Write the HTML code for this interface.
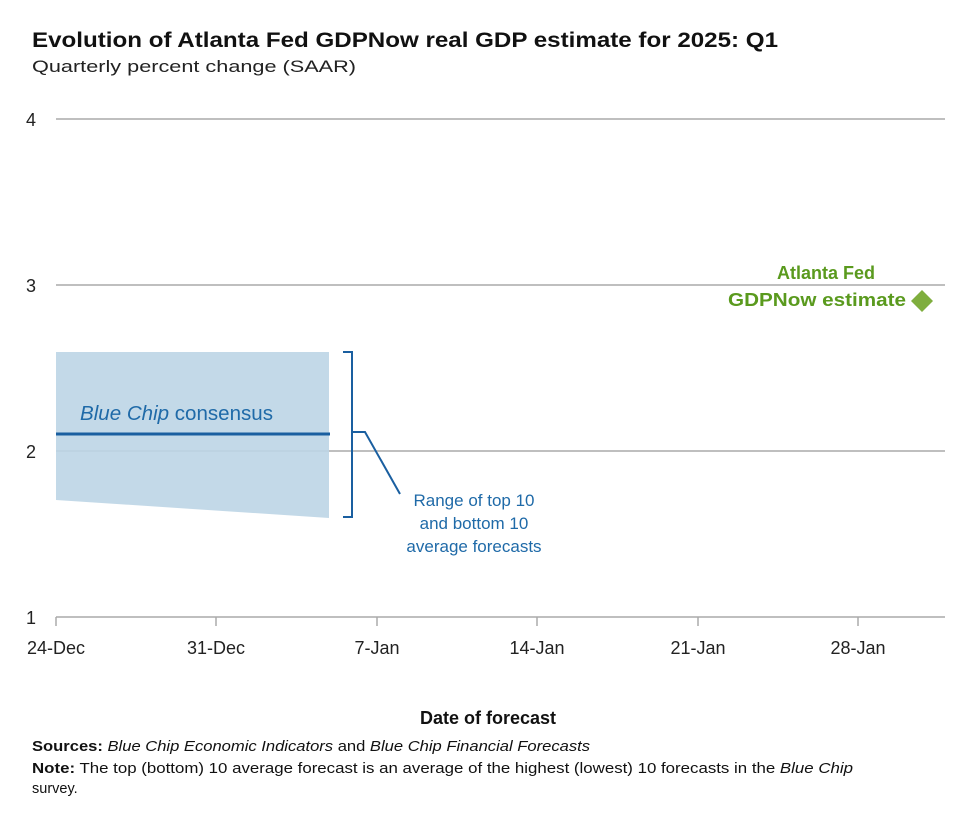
<!DOCTYPE html>
<html><head><style>
body{margin:0;background:#fff;width:963px;height:808px;overflow:hidden;font-family:"Liberation Sans",sans-serif;}
</style></head><body>
<svg width="963" height="808" xmlns="http://www.w3.org/2000/svg" font-family="Liberation Sans, sans-serif">
<text x="32" y="47" font-size="21" font-weight="bold" fill="#111" textLength="746" lengthAdjust="spacingAndGlyphs">Evolution of Atlanta Fed GDPNow real GDP estimate for 2025: Q1</text>
<text x="32" y="72" font-size="17" fill="#222" textLength="324" lengthAdjust="spacingAndGlyphs">Quarterly percent change (SAAR)</text>
<g stroke="#aaa" stroke-width="1.5">
<line x1="56" y1="119" x2="945" y2="119"/>
<line x1="56" y1="285" x2="945" y2="285"/>
<line x1="56" y1="451" x2="945" y2="451"/>
<line x1="56" y1="617" x2="945" y2="617"/>
<line x1="56" y1="617" x2="56" y2="626"/>
<line x1="216" y1="617" x2="216" y2="626"/>
<line x1="377" y1="617" x2="377" y2="626"/>
<line x1="537" y1="617" x2="537" y2="626"/>
<line x1="698" y1="617" x2="698" y2="626"/>
<line x1="858" y1="617" x2="858" y2="626"/>
</g>
<g font-size="18" fill="#222">
<text x="26" y="126">4</text><text x="26" y="292">3</text><text x="26" y="458">2</text><text x="26" y="624">1</text>
</g>
<g font-size="18" fill="#222" text-anchor="middle">
<text x="56" y="654">24-Dec</text><text x="216" y="654">31-Dec</text><text x="377" y="654">7-Jan</text>
<text x="537" y="654">14-Jan</text><text x="698" y="654">21-Jan</text><text x="858" y="654">28-Jan</text>
</g>
<polygon points="56,352 329,352 329,518 56,500" fill="#bcd5e6" opacity="0.9"/>
<line x1="56" y1="434" x2="330" y2="434" stroke="#1a5fa0" stroke-width="3"/>
<text x="80" y="420" font-size="20" fill="#1f6aa8" textLength="193" lengthAdjust="spacingAndGlyphs"><tspan font-style="italic">Blue Chip</tspan> consensus</text>
<path d="M343,352 h9 v80 h4 M352,432 v85 h-9" fill="none" stroke="#1a5fa0" stroke-width="2"/>
<path d="M355,432 h10 l35,62" fill="none" stroke="#1a5fa0" stroke-width="2"/>
<g font-size="17" fill="#1f6aa8" text-anchor="middle">
<text x="474" y="506">Range of top 10</text><text x="474" y="529">and bottom 10</text><text x="474" y="552">average forecasts</text>
</g>
<g font-size="18" font-weight="bold" fill="#5a9a1e" text-anchor="end">
<text x="875" y="279">Atlanta Fed</text><text x="906" y="306" textLength="178" lengthAdjust="spacingAndGlyphs">GDPNow estimate</text>
</g>
<polygon points="922,290 933,301 922,312 911,301" fill="#7fae3e"/>
<text x="488" y="724" font-size="18" font-weight="bold" fill="#111" text-anchor="middle">Date of forecast</text>
<text x="32" y="751" font-size="14.5" fill="#111" textLength="558" lengthAdjust="spacingAndGlyphs"><tspan font-weight="bold">Sources:</tspan> <tspan font-style="italic">Blue Chip Economic Indicators</tspan> and <tspan font-style="italic">Blue Chip Financial Forecasts</tspan></text>
<text x="32" y="773" font-size="14.5" fill="#111" textLength="821" lengthAdjust="spacingAndGlyphs"><tspan font-weight="bold">Note:</tspan> The top (bottom) 10 average forecast is an average of the highest (lowest) 10 forecasts in the <tspan font-style="italic">Blue Chip</tspan></text>
<text x="32" y="793" font-size="14.5" fill="#111">survey.</text>
</svg>
</body></html>
